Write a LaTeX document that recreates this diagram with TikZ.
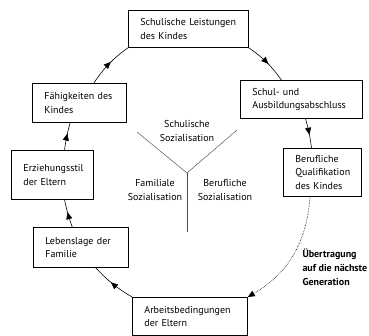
\documentclass[tikz,border=0pt]{standalone}
\usepackage{fontspec}
\setmainfont{PT Sans}
\usetikzlibrary{arrows.meta,decorations.markings}

\tikzset{
  box/.style={draw, line width=0.8pt, anchor=north west, align=left,
    inner xsep=12pt, inner ysep=0pt, font=\fontsize{10}{13.5}\selectfont},
  midarrow/.style={line width=0.6pt, postaction={decorate},
    decoration={markings, mark=at position #1 with {\arrow{Triangle[length=7pt,width=6pt]}}}},
  midarrow/.default=0.55,
  transfer/.style={densely dotted, line width=0.6pt, -{Triangle[length=7pt,width=6pt]}},
  yline/.style={line width=0.45pt, black!70},
  lbl/.style={align=center, font=\fontsize{10}{13.5}\selectfont}
}

\begin{document}
\begin{tikzpicture}[x=1pt,y=-1pt]
  \useasboundingbox (0,0) rectangle (369,336);

  % The boxes of the cycle
  \node[box, text width=96pt, minimum height=37pt] (leist) at (128,10) {Schulische Leistungen\\des Kindes};
  \node[box, text width=98pt, minimum height=38pt] (schul) at (240,80) {Schul- und\\Ausbildungsabschluss};
  \node[box, text width=54pt, minimum height=48pt] (beruf) at (283,148) {Berufliche\\Qualifikation\\des Kindes};
  \node[box, text width=91pt, minimum height=38pt] (arbeit) at (132,297) {Arbeitsbedingungen\\der Eltern};
  \node[box, text width=71pt, minimum height=40pt] (lebens) at (33,227) {Lebenslage der\\Familie};
  \node[box, text width=58pt, minimum height=49pt] (erzieh) at (11,150) {Erziehungsstil\\der Eltern};
  \node[box, text width=70pt, minimum height=39pt] (faehig) at (32,83) {Fähigkeiten des\\Kindes};

  % Arrows round the circle
  \draw[midarrow] (faehig.54) to[bend left=10] (leist.south west);
  \draw[midarrow] (leist.south east) to[bend left=10] (schul.136);
  \draw[midarrow] (schul.-78) to[bend left=4] (beruf.114);
  \draw[transfer] (beruf.243) to[bend left=28] (arbeit.north east);
  \draw[midarrow] (arbeit.north west) to[bend left=8] (lebens.306);
  \draw[midarrow] (lebens.113) to[bend left=4] (erzieh.296);
  \draw[midarrow=0.6] (erzieh.64) to[bend left=4] (faehig.245);

  % Transfer label
  \node[lbl, align=left, anchor=west, font=\fontsize{10}{14}\selectfont\bfseries] (uebertr) at (299,267) {Übertragung\\auf die nächste\\Generation};

  % The Y in the middle
  \coordinate (ymid) at (187,173);
  \coordinate (yleft) at (137,132);
  \coordinate (yright) at (237,130);
  \coordinate (ybottom) at (187,232);
  \draw[yline] (yleft) -- (ymid) -- (yright);
  \draw[yline] (ymid) -- (ybottom);

  % Labels of the three sectors
  \node[lbl] (schulsoz) at (187,131) {Schulische\\Sozialisation};
  \node[lbl] (famsoz) at (155,190) {Familiale\\Sozialisation};
  \node[lbl] (berufsoz) at (225,190) {Berufliche\\Sozialisation};
\end{tikzpicture}
\end{document}
